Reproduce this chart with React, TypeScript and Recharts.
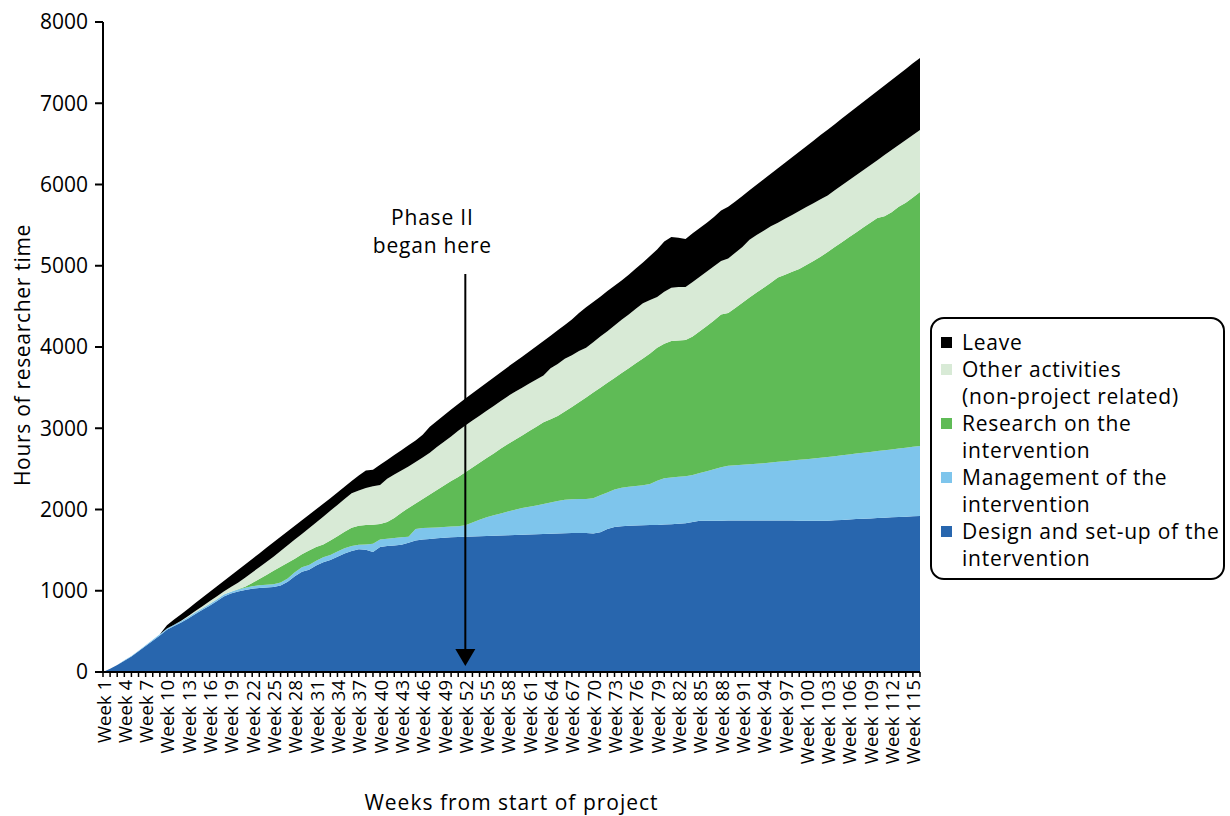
import React from 'react';
import { AreaChart, Area, XAxis, YAxis, ReferenceLine, Legend, Label } from 'recharts';

const FONT = "'Open Sans', 'Noto Sans', sans-serif";

const weeks: string[] = Array.from({ length: 116 }, (_, i) => `Week ${i + 1}`);

const shownTicks = [
  'Week 1', 'Week 4', 'Week 7', 'Week 10', 'Week 13', 'Week 16', 'Week 19', 'Week 22', 'Week 25', 'Week 28',
  'Week 31', 'Week 34', 'Week 37', 'Week 40', 'Week 43', 'Week 46', 'Week 49', 'Week 52', 'Week 55', 'Week 58',
  'Week 61', 'Week 64', 'Week 67', 'Week 70', 'Week 73', 'Week 76', 'Week 79', 'Week 82', 'Week 85', 'Week 88',
  'Week 91', 'Week 94', 'Week 97', 'Week 100', 'Week 103', 'Week 106', 'Week 109', 'Week 112', 'Week 115',
];

const yTicks = [0, 1000, 2000, 3000, 4000, 5000, 6000, 7000, 8000];

// Design and set-up of the intervention
const design = [
  0, 40, 85, 140, 190, 255, 320, 385, 450, 520,
  565, 610, 660, 715, 765, 815, 870, 930, 965, 990,
  1010, 1025, 1035, 1040, 1045, 1065, 1110, 1180, 1235, 1260,
  1310, 1350, 1378, 1420, 1460, 1490, 1512, 1505, 1478, 1538,
  1550, 1558, 1565, 1590, 1620, 1630, 1638, 1645, 1652, 1658,
  1662, 1665, 1668, 1670, 1673, 1676, 1680, 1683, 1686, 1690,
  1693, 1696, 1700, 1703, 1706, 1708, 1710, 1712, 1712, 1705,
  1720, 1760, 1785, 1795, 1800, 1803, 1806, 1808, 1810, 1815,
  1820, 1825, 1832, 1845, 1862, 1862, 1863, 1863, 1864, 1864,
  1864, 1865, 1865, 1865, 1865, 1864, 1864, 1864, 1863, 1863,
  1863, 1862, 1862, 1868, 1872, 1877, 1882, 1886, 1890, 1895,
  1900, 1904, 1908, 1912, 1916, 1920,
];

// Management of the intervention
const management = [
  0, 0, 2, 4, 6, 8, 10, 12, 14, 15,
  16, 17, 18, 19, 20, 21, 22, 23, 24, 26,
  28, 30, 32, 34, 36, 38, 42, 48, 54, 58,
  60, 62, 62, 62, 62, 60, 55, 65, 100, 92,
  90, 92, 93, 75, 140, 142, 137, 135, 133, 132,
  133, 140, 172, 205, 232, 254, 270, 292, 312, 330,
  342, 354, 368, 382, 399, 412, 415, 416, 418, 435,
  455, 450, 460, 473, 480, 487, 494, 506, 545, 570,
  575, 577, 576, 580, 587, 608, 632, 657, 673, 681,
  686, 692, 697, 705, 713, 723, 731, 740, 749, 757,
  766, 775, 784, 788, 795, 800, 806, 812, 819, 824,
  830, 836, 843, 849, 856, 862,
];

// Research on the intervention
const research = [
  0, 0, 0, 0, 0, 0, 0, 0, 0, 0,
  0, 0, 0, 0, 0, 0, 0, 0, 0, 4,
  12, 40, 78, 121, 164, 192, 193, 167, 161, 177,
  170, 158, 180, 190, 203, 225, 233, 239, 234, 192,
  206, 245, 302, 355, 315, 358, 410, 460, 510, 560,
  605, 653, 677, 700, 728, 760, 800, 830, 859, 890,
  930, 970, 1007, 1025, 1045, 1085, 1137, 1192, 1250, 1300,
  1325, 1350, 1375, 1412, 1460, 1510, 1560, 1606, 1635, 1655,
  1680, 1678, 1677, 1705, 1746, 1790, 1830, 1880, 1883, 1935,
  1995, 2053, 2108, 2160, 2212, 2268, 2295, 2321, 2348, 2390,
  2429, 2473, 2524, 2574, 2623, 2673, 2722, 2772, 2821, 2869,
  2880, 2920, 2974, 3014, 3068, 3126,
];

// Other activities (non-project related)
const other = [
  0, 0, 0, 0, 0, 0, 0, 0, 0, 0,
  2, 5, 12, 16, 25, 34, 38, 37, 56, 80,
  110, 130, 145, 160, 175, 195, 215, 235, 250, 275,
  300, 340, 365, 383, 405, 425, 435, 456, 473, 480,
  534, 535, 520, 510, 510, 510, 515, 530, 540, 550,
  570, 577, 578, 580, 582, 585, 585, 590, 593, 590,
  585, 580, 575, 630, 640, 650, 638, 630, 610, 620,
  630, 635, 645, 655, 660, 670, 680, 660, 625, 640,
  655, 660, 655, 670, 670, 670, 670, 660, 670, 680,
  685, 710, 710, 700, 695, 675, 688, 701, 714, 712,
  712, 708, 696, 698, 700, 702, 704, 706, 708, 712,
  752, 764, 761, 773, 770, 763,
];

// Leave
const leave = [
  0, 0, 0, 0, 0, 0, 0, 0, 0, 40,
  62, 80, 90, 98, 106, 114, 122, 130, 143, 156,
  164, 167, 170, 173, 176, 174, 172, 170, 168, 166,
  164, 162, 155, 155, 150, 150, 185, 215, 205, 248,
  230, 240, 250, 260, 265, 280, 320, 320, 325, 330,
  330, 330, 335, 340, 345, 350, 355, 360, 370, 380,
  395, 410, 425, 400, 415, 415, 440, 470, 500, 495,
  490, 495, 490, 485, 490, 495, 500, 540, 585, 620,
  625, 605, 590, 600, 600, 600, 605, 620, 635, 632,
  630, 608, 616, 634, 647, 670, 690, 710, 730, 750,
  770, 790, 809, 815, 821, 827, 833, 839, 845, 851,
  857, 863, 869, 875, 881, 886,
];

const phaseWeek = 'Week 52';
const phaseTop = 4898;
const phaseTip = 74;

const COLORS = {
  design: '#2866AE',
  management: '#7EC5EC',
  research: '#5FBB56',
  other: '#D8EAD6',
  leave: '#000000',
};

const legendItems = [
  { key: 'leave', lines: ['Leave'] },
  { key: 'other', lines: ['Other activities', '(non-project related)'] },
  { key: 'research', lines: ['Research on the', 'intervention'] },
  { key: 'management', lines: ['Management of the', 'intervention'] },
  { key: 'design', lines: ['Design and set-up of the', 'intervention'] },
];

const data = weeks.map((week, i) => ({
  week,
  design: design[i],
  management: management[i],
  research: research[i],
  other: other[i],
  leave: leave[i],
}));

const XTick = (props: any) => {
  const { x, y, payload } = props;
  if (!shownTicks.includes(payload.value)) return <g />;
  return (
    <text
      x={x}
      y={y}
      transform={`rotate(-90 ${x} ${y})`}
      textAnchor="end"
      dominantBaseline="central"
      fontSize={18.5}
      fontFamily={FONT}
      fill="#000"
    >
      {payload.value}
    </text>
  );
};

const PhaseArrow = (props: any) => {
  const { x1, y1, x2, y2 } = props;
  return (
    <g>
      <line x1={x1} y1={y1} x2={x2} y2={y2 - 14} stroke="#000" strokeWidth={2} />
      <polygon points={`${x2 - 10},${y2 - 17} ${x2 + 10},${y2 - 17} ${x2},${y2}`} fill="#000" />
      <text x={x1 - 33} y={y1 - 57} textAnchor="middle" dominantBaseline="central" fontSize={21} letterSpacing={0.8} fontFamily={FONT} fill="#000">
        Phase II
      </text>
      <text x={x1 - 33} y={y1 - 29} textAnchor="middle" dominantBaseline="central" fontSize={21} letterSpacing={0.8} fontFamily={FONT} fill="#000">
        began here
      </text>
    </g>
  );
};

const LegendBox = () => (
  <div
    style={{
      boxSizing: 'border-box',
      width: 295,
      height: 263,
      border: '2px solid #000',
      borderRadius: 14,
      padding: '10px 0 0 9px',
      fontFamily: FONT,
      fontSize: 21,
      letterSpacing: 0.75,
      lineHeight: '27px',
      color: '#000',
      background: '#fff',
      textAlign: 'left',
    }}
  >
    {legendItems.map((item) => (
      <div key={item.key} style={{ display: 'flex' }}>
        <div
          style={{
            width: 11,
            height: 11,
            background: (COLORS as any)[item.key],
            marginTop: 8,
            marginRight: 10,
            flexShrink: 0,
          }}
        />
        <div>
          {item.lines.map((l, j) => (
            <div key={j} style={{ whiteSpace: 'nowrap' }}>{l}</div>
          ))}
        </div>
      </div>
    ))}
  </div>
);

export default function App() {
  return (
    <div style={{ position: 'absolute', left: 0, top: 0, width: 1230, height: 816, background: '#fff' }}>
      <AreaChart width={1230} height={816} data={data} margin={{ top: 22, right: 310, bottom: 0, left: 0 }}>
        <XAxis
          dataKey="week"
          type="category"
          interval={0}
          tick={<XTick />}
          tickSize={5}
          tickMargin={3}
          height={144}
          axisLine={{ stroke: '#000', strokeWidth: 2 }}
          tickLine={{ stroke: '#000', strokeWidth: 1.5 }}
        >
          <Label
            value="Weeks from start of project"
            position="insideBottom"
            offset={6}
            style={{ fontSize: 21, letterSpacing: 1, fontFamily: FONT, fill: '#000' }}
          />
        </XAxis>
        <YAxis
          domain={[0, 8000]}
          ticks={yTicks}
          width={103}
          tickSize={8}
          tickMargin={7}
          interval={0}
          axisLine={{ stroke: '#000', strokeWidth: 2 }}
          tickLine={{ stroke: '#000', strokeWidth: 2 }}
          tick={{ fontSize: 21, fontFamily: FONT, fill: '#000' }}
        >
          <Label
            content={(p: any) => {
              const vb = p.viewBox || { x: 0, y: 22, width: 103, height: 650 };
              const cx = 22;
              const cy = vb.y + vb.height / 2 + 8;
              return (
                <text
                  x={cx}
                  y={cy}
                  transform={`rotate(-90 ${cx} ${cy})`}
                  textAnchor="middle"
                  dominantBaseline="central"
                  fontSize={21}
                  letterSpacing={0.7}
                  fontFamily={FONT}
                  fill="#000"
                >
                  Hours of researcher time
                </text>
              );
            }}
          />
        </YAxis>
        <Area type="linear" dataKey="design" name="Design and set-up of the intervention" stackId="1" stroke="none" fill={COLORS.design} fillOpacity={1} isAnimationActive={false} dot={false} activeDot={false} />
        <Area type="linear" dataKey="management" name="Management of the intervention" stackId="1" stroke="none" fill={COLORS.management} fillOpacity={1} isAnimationActive={false} dot={false} activeDot={false} />
        <Area type="linear" dataKey="research" name="Research on the intervention" stackId="1" stroke="none" fill={COLORS.research} fillOpacity={1} isAnimationActive={false} dot={false} activeDot={false} />
        <Area type="linear" dataKey="other" name="Other activities (non-project related)" stackId="1" stroke="none" fill={COLORS.other} fillOpacity={1} isAnimationActive={false} dot={false} activeDot={false} />
        <Area type="linear" dataKey="leave" name="Leave" stackId="1" stroke="none" fill={COLORS.leave} fillOpacity={1} isAnimationActive={false} dot={false} activeDot={false} />
        <ReferenceLine
          segment={[{ x: phaseWeek, y: phaseTop }, { x: phaseWeek, y: phaseTip }]}
          ifOverflow="visible"
          shape={<PhaseArrow />}
        />
        <Legend
          layout="vertical"
          align="center"
          verticalAlign="middle"
          wrapperStyle={{ left: 930, top: 317, width: 295, height: 263 }}
          content={() => <LegendBox />}
        />
      </AreaChart>
    </div>
  );
}
